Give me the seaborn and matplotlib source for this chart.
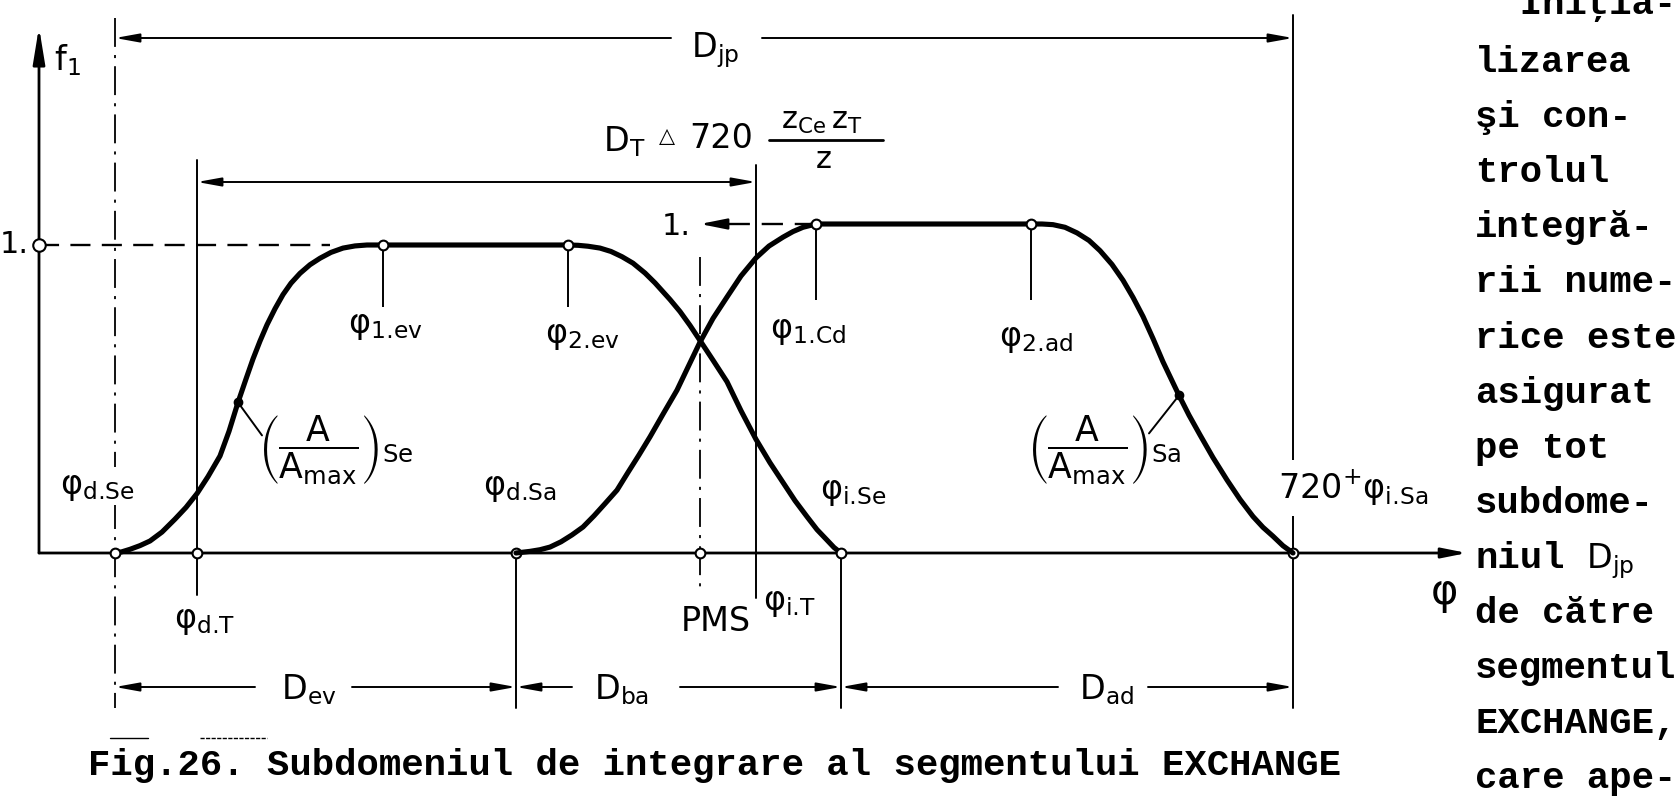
import matplotlib
matplotlib.use("Agg")
import matplotlib.pyplot as plt
import seaborn as sns
from matplotlib.patches import ArrowStyle

# ---------------------------------------------------------------------------
# Data: characteristic crank angles on the phi axis (drawing units)
# ---------------------------------------------------------------------------
phi_origin = 39
phi_axis_end = 1467
phi_marks = {
    "d.Se": 115, "d.T": 197, "1.ev": 383, "d.Sa": 516, "2.ev": 568,
    "PMS": 700, "i.T": 756, "1.Cd": 816, "i.Se": 841, "2.ad": 1031,
    "i.Sa": 1293,
}

# exhaust valve (Se): relative flow area A/Amax
se_phi = [115, 122, 130, 140, 150, 162, 175, 186, 197, 208, 220, 229, 238, 246, 253,
          260, 267, 275, 283, 291, 300, 310, 320, 331, 343, 355, 367, 383,
          568, 578, 588, 600, 611, 622, 633, 645, 655, 660, 670, 680, 690, 700, 713,
          727, 741, 756, 770, 783, 795, 807, 817, 827, 834, 841]
se_f = [0.0, 0.004, 0.012, 0.024, 0.039, 0.068, 0.110, 0.148, 0.193, 0.248, 0.315,
        0.395, 0.489, 0.565, 0.630, 0.688, 0.741, 0.793, 0.839, 0.876, 0.908, 0.936,
        0.957, 0.976, 0.990, 0.997, 1.0, 1.0,
        1.0, 0.999, 0.996, 0.990, 0.979, 0.962, 0.941, 0.909, 0.877, 0.859, 0.823,
        0.784, 0.739, 0.690, 0.626, 0.556, 0.462, 0.369, 0.293, 0.229, 0.170, 0.118,
        0.076, 0.042, 0.018, 0.0]

# intake valve (Sa): relative flow area A/Amax
sa_phi = [516, 530, 540, 550, 561, 572, 583, 594, 605, 617, 628, 639, 650, 663, 677,
          688, 700, 713, 727, 741, 756, 769, 783, 793, 803, 816,
          1031, 1042, 1053, 1065, 1077, 1089, 1100, 1112, 1123, 1133, 1143, 1153, 1163,
          1171, 1179, 1189, 1200, 1213, 1227, 1240, 1253, 1263, 1273, 1283, 1293]
sa_f = [0.0, 0.005, 0.010, 0.018, 0.034, 0.055, 0.079, 0.113, 0.150, 0.191, 0.245,
        0.298, 0.353, 0.422, 0.495, 0.565, 0.641, 0.713, 0.778, 0.842, 0.897, 0.933,
        0.960, 0.977, 0.990, 1.0,
        1.0, 1.0, 0.998, 0.990, 0.973, 0.950, 0.919, 0.877, 0.829, 0.777, 0.719,
        0.652, 0.581, 0.530, 0.479, 0.419, 0.359, 0.290, 0.222, 0.163, 0.111, 0.078,
        0.051, 0.022, 0.0]

se_inflection = se_phi.index(238)    # (A/Amax)Se point
sa_inflection = sa_phi.index(1179)   # (A/Amax)Sa point

caption = "Fig.26. Subdomeniul de integrare al segmentului EXCHANGE"
side_text = ["  Iniţia-", "lizarea", "şi con-", "trolul", "integră-", "rii nume-",
             "rice este", "asigurat", "pe tot", "subdome-", "niul", "de către",
             "segmentul", "EXCHANGE,", "care ape-"]

# ---------------------------------------------------------------------------
# Style
# ---------------------------------------------------------------------------
sns.set_theme(style="white")
plt.rcParams["font.family"] = ["DejaVu Sans"]
plt.rcParams["mathtext.fontset"] = "dejavusans"
plt.rcParams["mathtext.default"] = "regular"

W, H = 1676, 805
BASE = 553          # row of f = 0 on the drawing
UNIT_SE = 308       # drawing units per f = 1 (exhaust scale)
UNIT_SA = 329       # drawing units per f = 1 (intake scale)
FS = 24
K = "black"
THIN = 1.4
CURVE = 3.7
DASHDOT = (16, 4.5, 1.7, 4.5)
DOT = "\u2024"      # baseline dot without the math punctuation space

fig = plt.figure(figsize=(W / 100, H / 100), dpi=100)
fig.patch.set_facecolor("white")

lay = fig.add_axes([0, 0, 1, 1], label="layout")
lay.set_xlim(0, W)
lay.set_ylim(H, 0)
lay.axis("off")

ax = fig.add_axes([0, 0, 1, 1], label="exhaust")
ax.set_xlim(0, W)
ax.set_ylim(-(H - BASE) / UNIT_SE, BASE / UNIT_SE)
ax.axis("off")
ax.patch.set_alpha(0)

ax_sa = fig.add_axes([0, 0, 1, 1], label="intake")
ax_sa.set_xlim(0, W)
ax_sa.set_ylim(-(H - BASE) / UNIT_SA, BASE / UNIT_SA)
ax_sa.axis("off")
ax_sa.patch.set_alpha(0)


def arrow(a, start, end, lw=THIN, hl=0.72, hw=0.13, ms=20):
    a.annotate("", xy=end, xytext=start,
               arrowprops=dict(arrowstyle=ArrowStyle("-|>", head_length=hl, head_width=hw),
                               lw=lw, color=K, shrinkA=0, shrinkB=0, mutation_scale=ms))


def txt(x, y, s, size=FS, ha="center", va="center", **kw):
    lay.text(x, y, s, fontsize=size, ha=ha, va=va, color=K, **kw)


def phi_label(sub):
    return r"$φ_{" + sub.replace(".", DOT) + "}$"


# ---------------------------------------------------------------------------
# Axes of the diagram
# ---------------------------------------------------------------------------
arrow(ax, (phi_origin, 0), (phi_axis_end, 0), lw=2.0, hl=0.75, hw=0.15)
arrow(ax, (phi_origin, 0), (phi_origin, (BASE - 27) / UNIT_SE), lw=2.0, hl=1.1, hw=0.18)
txt(67, 60, r"$f_1$", size=FS)
txt(1444, 592, "φ", size=30)

# ---------------------------------------------------------------------------
# Construction lines
# ---------------------------------------------------------------------------
p = phi_marks
lay.plot([p["d.Se"]] * 2, [18, 708], color=K, lw=1.3, dashes=DASHDOT)
lay.plot([p["PMS"]] * 2, [257, 593], color=K, lw=1.3, dashes=DASHDOT)
for key, y0, y1 in [("d.T", 160, 595), ("i.T", 165, 598), ("d.Sa", BASE, 708),
                    ("i.Se", BASE, 708), ("i.Sa", 15, 708)]:
    lay.plot([p[key]] * 2, [y0, y1], color=K, lw=THIN)

ax.vlines([p["1.ev"], p["2.ev"]], 0.80, 1.0, color=K, lw=THIN)
ax_sa.vlines([p["1.Cd"], p["2.ad"]], 0.77, 1.0, color=K, lw=THIN)

# level "1." references
ax.plot([phi_origin, 330], [1, 1], color=K, lw=1.7, dashes=(8.5, 4.8))
ax_sa.plot([p["1.Cd"], 716], [1, 1], color=K, lw=1.7, dashes=(9, 5))
arrow(ax_sa, (722, 1), (700, 1), lw=1.7, hl=0.8, hw=0.16)
txt(14, 244, "1.", size=22)
txt(676, 226, "1.", size=22)

# ---------------------------------------------------------------------------
# Flow-area curves
# ---------------------------------------------------------------------------
sns.lineplot(x=se_phi, y=se_f, ax=ax, color=K, linewidth=CURVE, sort=False,
             estimator=None, solid_joinstyle="round", solid_capstyle="round")
sns.lineplot(x=sa_phi, y=sa_f, ax=ax_sa, color=K, linewidth=CURVE, sort=False,
             estimator=None, solid_joinstyle="round", solid_capstyle="round")

# characteristic points
open_kw = dict(ls="none", marker="o", ms=7, mfc="white", mec=K, mew=1.5, zorder=5)
ax.plot([phi_origin], [1.0], **{**open_kw, "ms": 9})
ax.plot([p["d.Se"], p["d.T"], p["d.Sa"], p["PMS"], p["i.Se"], p["i.Sa"]], [0] * 6, **open_kw)
ax.plot([p["1.ev"], p["2.ev"]], [1.0, 1.0], **open_kw)
ax_sa.plot([p["1.Cd"], p["2.ad"]], [1.0, 1.0], **open_kw)

se_pt = (se_phi[se_inflection], se_f[se_inflection])
sa_pt = (sa_phi[sa_inflection], sa_f[sa_inflection])
ax.plot(*se_pt, marker="o", ms=6, color=K, zorder=5)
ax_sa.plot(*sa_pt, marker="o", ms=6, color=K, zorder=5)
ax.annotate("", xy=se_pt, xytext=(24, -33), textcoords="offset pixels",
            arrowprops=dict(arrowstyle="-", lw=THIN, color=K, shrinkA=0, shrinkB=0))
ax_sa.annotate("", xy=sa_pt, xytext=(-30, -38), textcoords="offset pixels",
               arrowprops=dict(arrowstyle="-", lw=THIN, color=K, shrinkA=0, shrinkB=0))

# ---------------------------------------------------------------------------
# Labels of the characteristic angles
# ---------------------------------------------------------------------------
wbox = dict(facecolor="white", edgecolor="none", pad=2)
txt(97, 486, phi_label("d.Se"), bbox=wbox)
txt(205, 620, phi_label("d.T"))
txt(385, 325, phi_label("1.ev"))
txt(582, 335, phi_label("2.ev"))
txt(520, 487, phi_label("d.Sa"))
txt(716, 621, "PMS")
txt(790, 602, phi_label("i.T"))
txt(808, 330, phi_label("1.Cd"))
txt(853, 491, phi_label("i.Se"))
txt(1036, 338, phi_label("2.ad"))
txt(1353, 488, r"$720{}^{+}φ_{i" + DOT + "Sa}$",
    bbox=dict(facecolor="white", edgecolor="none", pad=6))
txt(336, 450, r"$\left(\dfrac{A}{A_{max}}\right)_{Se}$", size=25)
txt(1104, 450, r"$\left(\dfrac{A}{A_{max}}\right)_{Sa}$", size=25)

# ---------------------------------------------------------------------------
# Dimension lines
# ---------------------------------------------------------------------------
arrow(lay, (671, 38), (p["d.Se"], 38))
arrow(lay, (762, 38), (p["i.Sa"], 38))
txt(715, 50, r"$D_{jp}$", size=FS)

lay.annotate("", xy=(p["i.T"], 182), xytext=(p["d.T"], 182),
             arrowprops=dict(arrowstyle=ArrowStyle("<|-|>", head_length=0.72, head_width=0.13),
                             lw=THIN, color=K, shrinkA=0, shrinkB=0, mutation_scale=20))
txt(624, 142, r"$D_T$", size=FS)
txt(667, 136, "△", size=15, weight="bold")
txt(721, 139, "720", size=FS)
lay.plot([769, 883], [140, 140], color=K, lw=2.0)
txt(822, 122, r"$z_{Ce}\,z_T$", size=22)
txt(824, 160, "z", size=22)

YD = 687
arrow(lay, (255, YD), (p["d.Se"], YD))
arrow(lay, (352, YD), (p["d.Sa"], YD))
txt(309, 690, r"$D_{ev}$")
arrow(lay, (572, YD), (p["d.Sa"], YD))
arrow(lay, (680, YD), (p["i.Se"], YD))
txt(621, 690, r"$D_{ba}$")
arrow(lay, (1058, YD), (p["i.Se"], YD))
arrow(lay, (1148, YD), (p["i.Sa"], YD))
txt(1106, 690, r"$D_{ad}$")

# stray rule fragments above the caption
lay.plot([110, 148], [738, 738], color=K, lw=1.0)
lay.plot([200, 267], [738, 738], color=K, lw=1.0, dashes=(3, 1))

# ---------------------------------------------------------------------------
# Caption and running text
# ---------------------------------------------------------------------------
mono = dict(family="Liberation Mono", weight="bold", fontsize=26.8, color=K)
lay.text(88, 775, caption, ha="left", va="baseline", **mono)
for k, line in enumerate(side_text):
    y = 72 + 55.1 * (k - 1) if k else 14
    lay.text(1475, y, line, ha="left", va="baseline", **mono)
lay.text(1586, 568, r"$D_{jp}$", ha="left", va="baseline", fontsize=FS, color=K)

fig.savefig("out.png", dpi=100, facecolor="white")
